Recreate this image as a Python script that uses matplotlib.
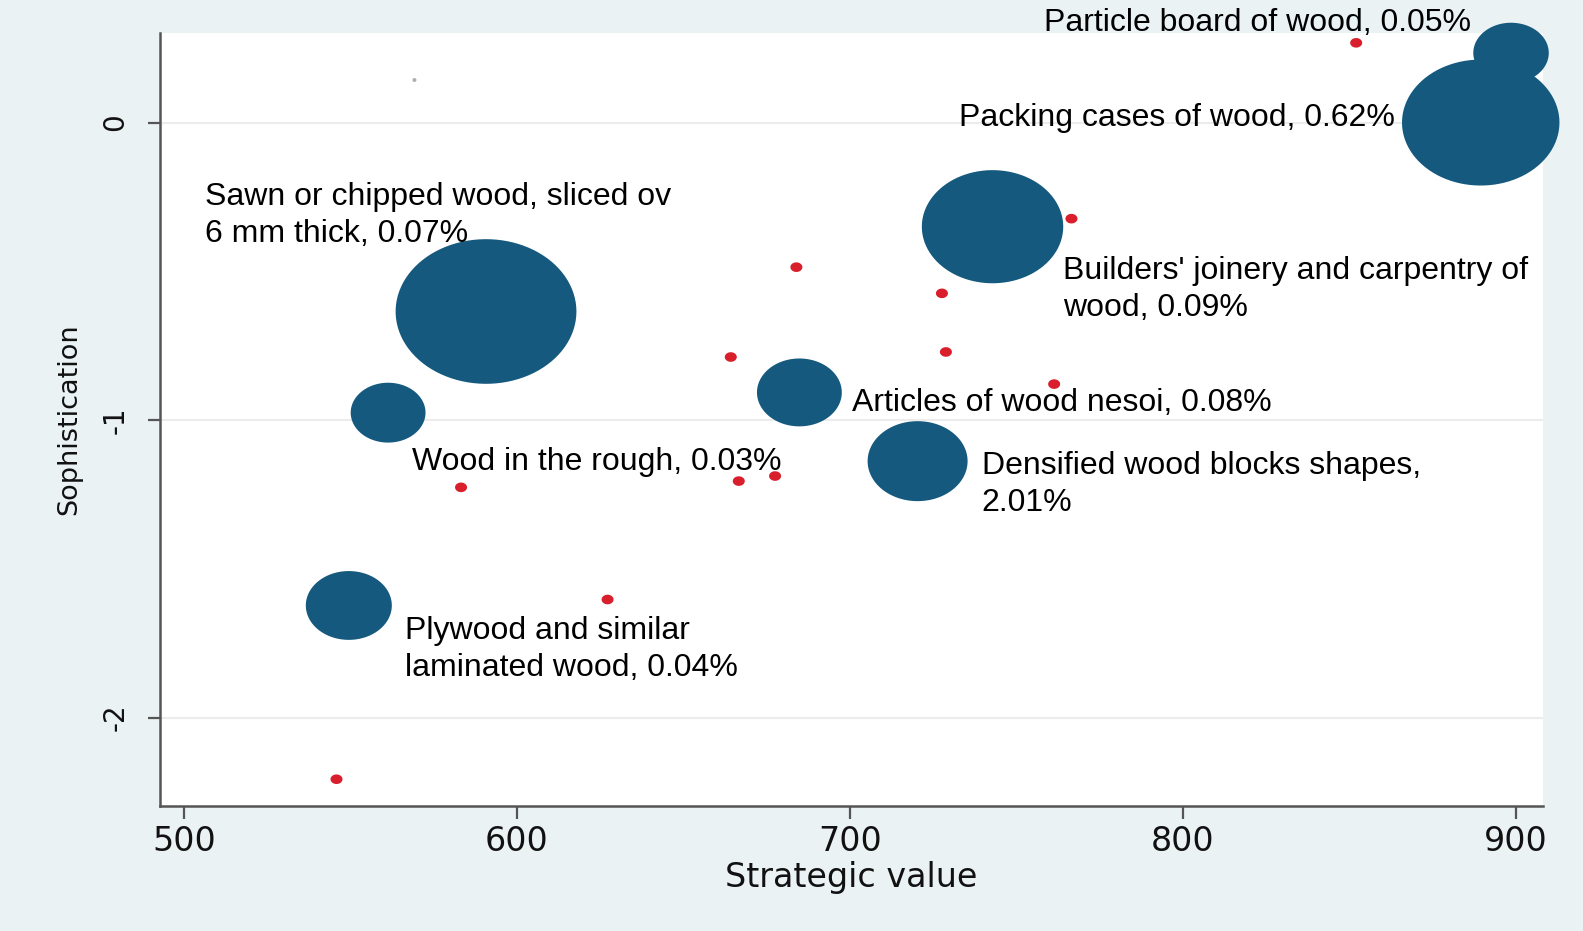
import matplotlib
matplotlib.use("Agg")
import matplotlib.pyplot as plt
import numpy as np
from matplotlib.path import Path
from matplotlib.markers import MarkerStyle

# ---- data ----
# large bubbles (strategic value, sophistication, bubble weight)
bubble_x = [889.4, 898.5, 742.8, 590.7, 684.8, 720.3, 561.3, 549.5]
bubble_y = [0.000, 0.234, -0.350, -0.635, -0.907, -1.138, -0.975, -1.623]
bubble_w = [248, 57, 200, 327, 72, 100, 56, 74]

# small red points
dot_x = [852.0, 766.5, 683.9, 727.6, 664.2, 728.8, 761.3, 583.2, 666.6, 677.5, 627.2, 545.8]
dot_y = [0.268, -0.323, -0.486, -0.574, -0.788, -0.771, -0.879, -1.226, -1.205, -1.188, -1.603, -2.207]

# faint grey point
grey_x = [569.2]
grey_y = [0.143]

labels = [
    "Particle board of wood, 0.05%",
    "Packing cases of wood, 0.62%",
    "Sawn or chipped wood, sliced ov\n6 mm thick, 0.07%",
    "Builders' joinery and carpentry of\nwood, 0.09%",
    "Articles of wood nesoi, 0.08%",
    "Wood in the rough, 0.03%",
    "Densified wood blocks shapes,\n2.01%",
    "Plywood and similar\nlaminated wood, 0.04%",
]
label_x = [758.3, 732.8, 506.4, 764.0, 700.6, 568.6, 739.5, 566.5]
label_y = [0.336, 0.014, -0.312, -0.562, -0.941, -1.141, -1.215, -1.770]

xticks = [500, 600, 700, 800, 900]
yticks = [0, -1, -2]
ytick_labels = ["0", "-1", "-2"]

# ---- style ----
BG = "#ebf2f3"
BLUE = "#15597f"
RED = "#d91f2b"
AX = "#555555"
TXT = "#111111"

# elliptical marker (source image is horizontally stretched)
t = np.linspace(0, 2 * np.pi, 100)
ell = Path(np.column_stack([np.cos(t), 0.8 * np.sin(t)]), closed=True)
ell_marker = MarkerStyle(ell)

W, H = 1583, 931
fig = plt.figure(figsize=(W / 100, H / 100), dpi=100, facecolor=BG)
ax = fig.add_axes([160 / W, (H - 806) / H, (1543 - 160) / W, (806 - 33) / H])
ax.set_facecolor("white")

ax.set_xlim(492.8, 908.1)
ax.set_ylim(-2.297, 0.301)

for yt in yticks:
    ax.axhline(yt, color="#ececec", lw=1.5, zorder=0)

sizes = [(10 * np.sqrt(w) * 0.72) ** 2 for w in bubble_w]
ax.scatter(bubble_x, bubble_y, s=sizes, marker=ell_marker, color=BLUE,
           edgecolors="none", zorder=3, clip_on=False)
ax.scatter(dot_x, dot_y, s=(12 * 0.72) ** 2, marker=ell_marker, color=RED,
           edgecolors="none", zorder=4, clip_on=False)
ax.scatter(grey_x, grey_y, s=(4 * 0.72) ** 2, marker="o", color="#b0b0b0",
           edgecolors="none", zorder=4, clip_on=False)

for txt, lx, ly in zip(labels, label_x, label_y):
    ax.text(lx, ly, txt, fontsize=23, family=["Liberation Sans", "DejaVu Sans"],
            ha="left", va="center", linespacing=1.3, color="black",
            zorder=5, clip_on=False)

for side in ["top", "right"]:
    ax.spines[side].set_visible(False)
for side in ["left", "bottom"]:
    ax.spines[side].set_color(AX)
    ax.spines[side].set_linewidth(1.8)

ax.set_xticks(xticks)
ax.set_xticklabels([str(v) for v in xticks])
ax.set_yticks(yticks)
ax.set_yticklabels(ytick_labels, rotation=90, va="center")
ax.tick_params(axis="both", direction="out", length=9, width=1.6, color=AX,
               labelcolor=TXT)
ax.tick_params(axis="x", pad=5, labelsize=24)
ax.tick_params(axis="y", pad=13, labelsize=20)
for lab in ax.get_xticklabels() + ax.get_yticklabels():
    lab.set_family("DejaVu Sans")

ax.set_xlabel("Strategic value", fontsize=24, family="DejaVu Sans", color=TXT, labelpad=2)
ax.set_ylabel("Sophistication", fontsize=19.5, family="DejaVu Sans", color=TXT, labelpad=13.5)

fig.savefig("out.png", dpi=100, facecolor=BG)
